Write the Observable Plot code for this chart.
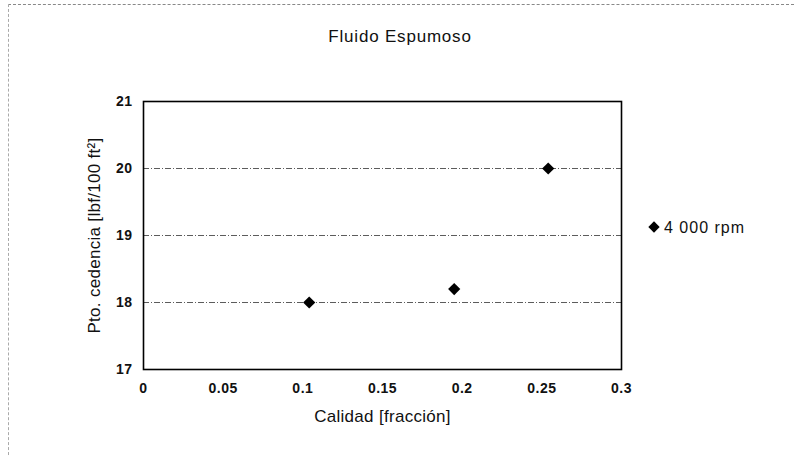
<!DOCTYPE html>
<html>
<head>
<meta charset="utf-8">
<script src="https://cdn.jsdelivr.net/npm/d3@7"></script>
<script src="https://cdn.jsdelivr.net/npm/@observablehq/plot@0.6"></script>
<style>
  html, body { margin: 0; padding: 0; background: #fff; }
  #wrap { position: relative; width: 795px; height: 456px; overflow: hidden; font-family: "Liberation Sans", Arial, sans-serif; }
  #border { position: absolute; left: 8px; top: 4px; width: 790px; height: 460px; border-top: 1px dashed #888; border-left: 1px dashed #aaa; }
  #title { position: absolute; left: 0; width: 800px; top: 27px; text-align: center; font-size: 17px; color: #111; letter-spacing: 0.8px; }
  #legend { position: absolute; left: 650px; top: 219px; font-size: 16px; color: #111; letter-spacing: 1px; white-space: nowrap; }
  #legend .m { display: inline-block; width: 8px; height: 8px; background: #000; transform: rotate(45deg); margin-right: 6px; vertical-align: 2px; }
  #chart { position: absolute; left: 0; top: 0; }
</style>
</head>
<body>
<div id="wrap">
  <div id="border"></div>
  <div id="chart"></div>
  <div id="title">Fluido Espumoso</div>
  <div id="legend"><span class="m"></span>4 000 rpm</div>
</div>
<script>
const seriesName = "4 000 rpm";
const calidad = [0.104, 0.195, 0.254];
const cedencia = [18.0, 18.2, 20.0];
const xTicks = [0, 0.05, 0.1, 0.15, 0.2, 0.25, 0.3];
const yTicks = [17, 18, 19, 20, 21];
const yGrid = [18, 19, 20];
const xLabel = "Calidad [fracción]";
const yLabel = "Pto. cedencia [lbf/100 ft²]";

const data = calidad.map((c, i) => ({x: c, y: cedencia[i]}));

const chart = Plot.plot({
  width: 795,
  height: 456,
  marginLeft: 143,
  marginRight: 174,
  marginTop: 101,
  marginBottom: 87,
  style: {fontFamily: "'Liberation Sans', Arial, sans-serif", background: "transparent", color: "#111"},
  x: {domain: [0, 0.3]},
  y: {domain: [17, 21]},
  marks: [
    Plot.ruleY(yGrid, {stroke: "#333", strokeWidth: 1, strokeDasharray: "6,2,1,2", strokeOpacity: 0.8}),
    Plot.frame({stroke: "#000", strokeWidth: 1.6}),
    Plot.axisX({ticks: xTicks, tickFormat: d => String(d), tickSize: 0, tickPadding: 14, fontSize: 14, fontWeight: "bold",
      label: xLabel, labelAnchor: "center", labelArrow: "none", labelOffset: 52}),
    Plot.axisY({ticks: yTicks, tickFormat: d => String(d), tickSize: 0, tickPadding: 11, fontSize: 14, fontWeight: "bold",
      label: yLabel, labelAnchor: "center", labelArrow: "none", labelOffset: 56}),
    Plot.dot(data, {x: "x", y: "y", symbol: "diamond2", r: 5.5, fill: "#000", stroke: "none"})
  ]
});
chart.querySelectorAll("g[aria-label='x-axis tick label'] text, g[aria-label='y-axis tick label'] text").forEach(t => {
  t.style.letterSpacing = "0.5px";
});
chart.querySelectorAll("g[aria-label='x-axis label'] text, g[aria-label='y-axis label'] text").forEach(t => {
  t.setAttribute("font-size", "17"); t.style.fontSize = "17px"; t.style.fontWeight = "normal"; t.style.letterSpacing = "0.3px";
});
document.getElementById("chart").appendChild(chart);
</script>
</body>
</html>
